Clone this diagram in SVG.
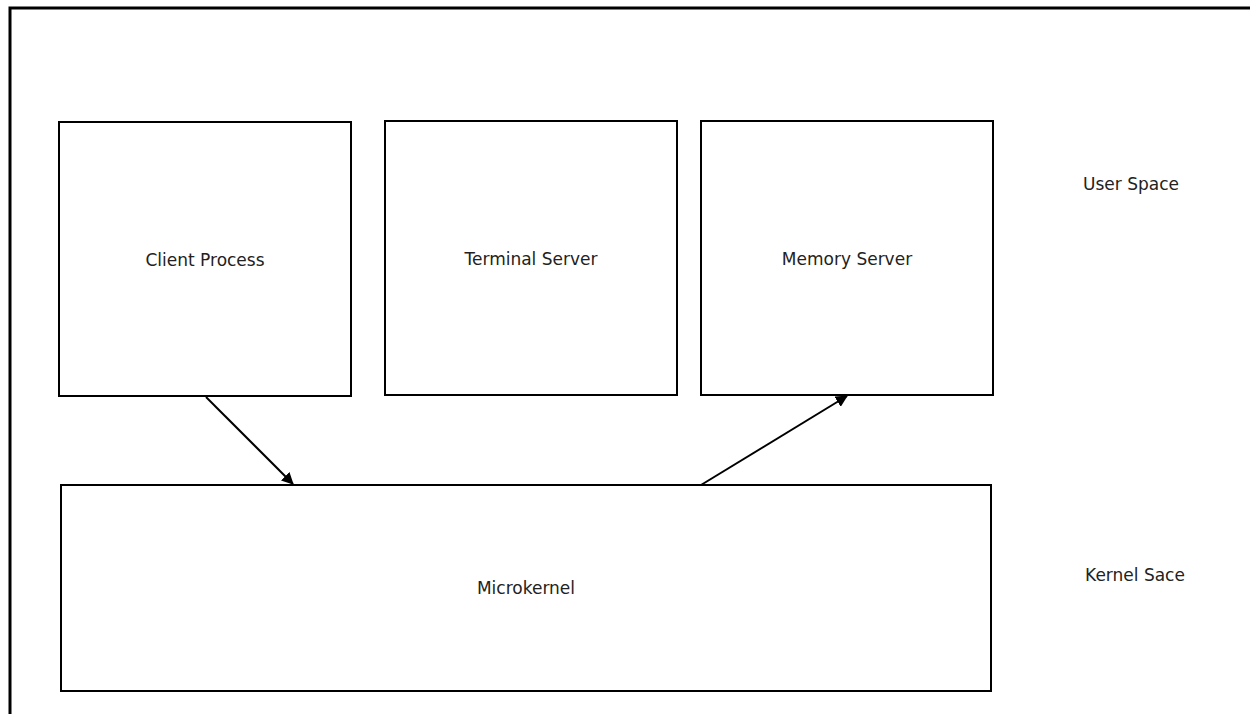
<svg xmlns="http://www.w3.org/2000/svg" width="1250" height="714" viewBox="0 0 1250 714">
<style>
.box{fill:#fff;stroke:#000;stroke-width:2}
.lbl{font-family:"DejaVu Sans",sans-serif;font-size:17px;fill:#222;text-anchor:middle;dominant-baseline:central}
.edge{stroke:#000;stroke-width:2;fill:none}
</style>
<defs>
<marker id="ah" markerWidth="12" markerHeight="12" refX="11" refY="6" orient="auto" markerUnits="userSpaceOnUse">
<path d="M0,0 L12,6 L0,12 z" fill="#000"/>
</marker>
</defs>
<rect width="1250" height="714" fill="#fff"/>
<path d="M10,714 L10,8 L1250,8" stroke="#000" stroke-width="3" fill="none"/>
<g id="client"><rect class="box" x="59" y="122" width="292" height="274"/><text class="lbl" x="205" y="260">Client Process</text></g>
<g id="terminal"><rect class="box" x="385" y="121" width="292" height="274"/><text class="lbl" x="531" y="259">Terminal Server</text></g>
<g id="memory"><rect class="box" x="701" y="121" width="292" height="274"/><text class="lbl" x="847" y="259">Memory Server</text></g>
<g id="microkernel"><rect class="box" x="61" y="485" width="930" height="206"/><text class="lbl" x="526" y="588">Microkernel</text></g>
<g id="userspace"><text class="lbl" x="1131" y="184">User Space</text></g>
<g id="kernelspace"><text class="lbl" x="1135" y="575">Kernel Sace</text></g>
<g id="connectors">
<line class="edge" x1="206" y1="397" x2="293" y2="484" marker-end="url(#ah)"/>
<line class="edge" x1="701" y1="485" x2="847" y2="396" marker-end="url(#ah)"/>
</g>
</svg>
